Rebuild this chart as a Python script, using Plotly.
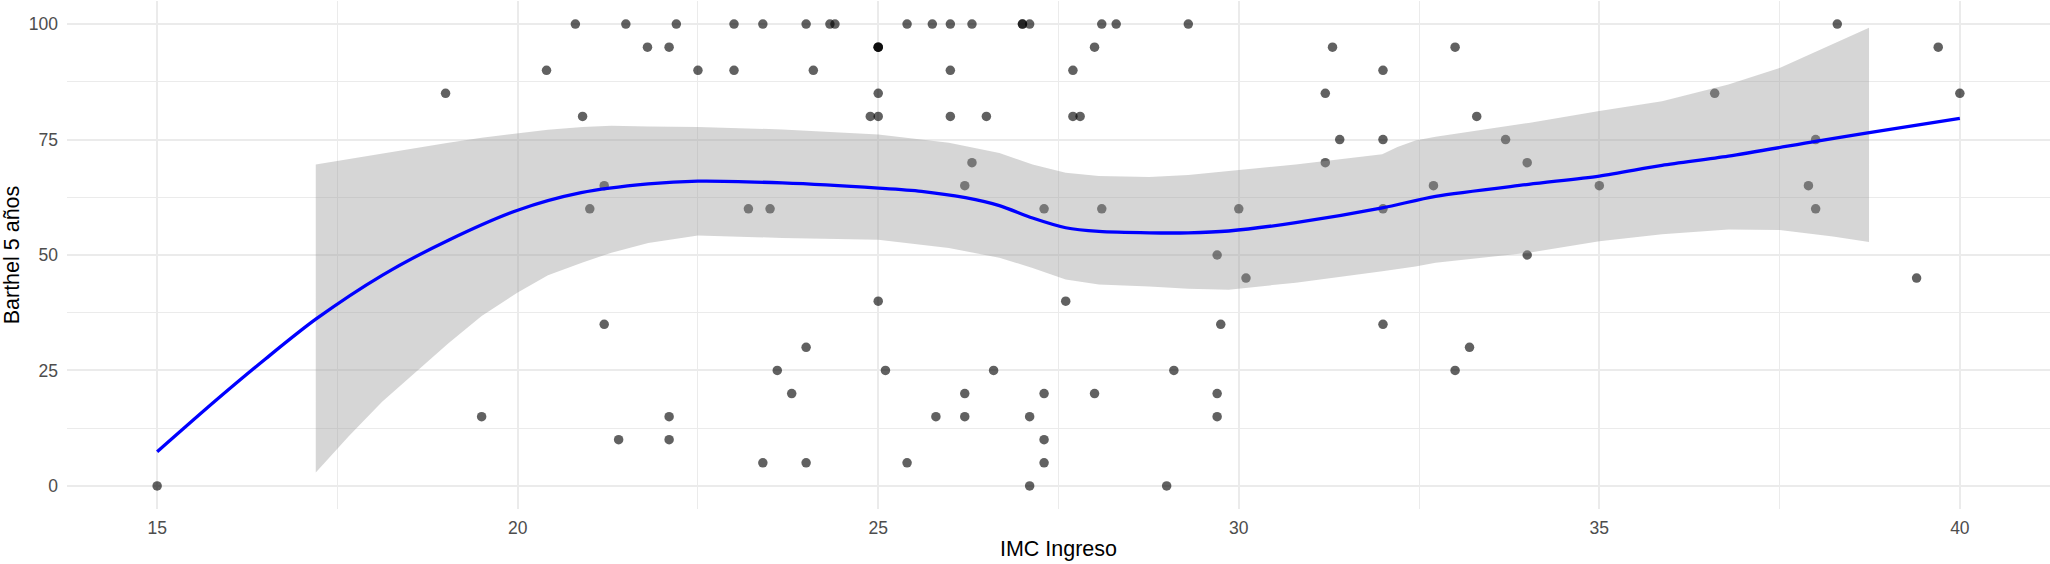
import plotly.graph_objects as go

# ---- data ----
imc = [15.0,
       20.8, 21.5, 22.2, 23.0, 23.4, 24.0, 24.33, 24.4, 25.4, 25.75, 26.0, 26.3, 27.0, 27.0, 27.1, 28.1, 28.3, 29.3, 38.3,
       21.8, 22.1, 25.0, 25.0, 25.0, 28.0, 31.3, 33.0, 39.7,
       20.4, 22.5, 23.0, 24.1, 26.0, 27.7, 32.0,
       19.0, 25.0, 31.2, 36.6, 40.0,
       20.9, 24.89, 25.0, 26.0, 26.5, 27.7, 27.8, 33.3,
       31.4, 32.0, 33.7, 38.0,
       26.3, 31.2, 34.0,
       21.2, 26.2, 32.7, 35.0, 37.9,
       21.0, 23.2, 23.5, 27.3, 28.1, 30.0, 32.0, 38.0,
       29.7, 34.0,
       30.1, 39.4,
       25.0, 27.6,
       21.2, 29.75, 32.0,
       24.0, 33.2,
       23.6, 25.1, 26.6, 29.1, 33.0,
       23.8, 26.2, 27.3, 28.0, 29.7,
       19.5, 22.1, 25.8, 26.2, 27.1, 29.7,
       21.4, 22.1, 27.3,
       23.4, 24.0, 25.4, 27.3,
       27.1, 29.0]
barthel = [0,
           100, 100, 100, 100, 100, 100, 100, 100, 100, 100, 100, 100, 100, 100, 100, 100, 100, 100, 100,
           95, 95, 95, 95, 95, 95, 95, 95, 95,
           90, 90, 90, 90, 90, 90, 90,
           85, 85, 85, 85, 85,
           80, 80, 80, 80, 80, 80, 80, 80,
           75, 75, 75, 75,
           70, 70, 70,
           65, 65, 65, 65, 65,
           60, 60, 60, 60, 60, 60, 60, 60,
           50, 50,
           45, 45,
           40, 40,
           35, 35, 35,
           30, 30,
           25, 25, 25, 25, 25,
           20, 20, 20, 20, 20,
           15, 15, 15, 15, 15, 15,
           10, 10, 10,
           5, 5, 5, 5,
           0, 0]

# loess fit line
fit_x = [15.0, 15.82, 16.51, 17.2, 18.12, 19.04, 20.0, 20.88, 21.81, 22.5, 23.67, 25.0, 25.6, 26.21,
         26.68, 27.14, 27.6, 28.06, 28.76, 29.3, 29.86, 30.79, 31.99, 32.73, 34.02, 35.0, 35.87, 36.79,
         38.0, 38.7, 40.0]
fit_y = [7.4, 18.6, 27.6, 36.1, 45.6, 53.2, 59.7, 63.5, 65.4, 66.0, 65.6, 64.5, 63.8, 62.4,
         60.7, 58.0, 55.9, 55.1, 54.8, 54.8, 55.2, 57.0, 60.2, 62.7, 65.3, 67.1, 69.4, 71.4,
         74.6, 76.4, 79.6]

# confidence band
band_x = [17.2, 17.66, 18.12, 18.58, 19.04, 19.5, 20.0, 20.42, 20.9, 21.3, 21.81, 22.5, 23.67, 25.0,
          25.98, 26.68, 27.14, 27.6, 28.06, 28.76, 29.3, 29.86, 30.79, 31.99, 32.2, 32.45, 32.73, 34.02,
          35.0, 35.87, 36.79, 37.5, 38.24, 38.74]
band_hi = [69.6, 70.8, 72.0, 73.2, 74.3, 75.4, 76.4, 77.1, 77.7, 78.0, 77.8, 77.7, 77.2, 76.1,
           74.3, 72.1, 69.6, 67.8, 67.1, 66.9, 67.3, 68.2, 69.6, 71.8, 73.4, 74.8, 75.6, 78.6,
           81.2, 83.3, 86.9, 90.5, 95.6, 99.2]
band_lo = [2.9, 10.8, 18.2, 24.5, 30.9, 36.8, 41.9, 45.6, 48.4, 50.5, 52.6, 54.2, 53.7, 53.3,
           51.5, 49.4, 47.2, 44.7, 43.6, 43.2, 42.7, 42.5, 44.0, 46.5, 46.9, 47.5, 48.3, 50.5,
           53.0, 54.5, 55.5, 55.4, 54.0, 52.8]

x_ticks = [15, 20, 25, 30, 35, 40]
y_ticks = [0, 25, 50, 75, 100]

FONT = "Liberation Sans, Arial, Helvetica, sans-serif"

fig = go.Figure()

fig.add_trace(go.Scatter(
    x=imc, y=barthel, mode="markers",
    marker=dict(size=9.5, color="rgba(0,0,0,0.62)", line=dict(width=0)),
    hoverinfo="x+y", showlegend=False))

fig.add_trace(go.Scatter(
    x=band_x + band_x[::-1], y=band_hi + band_lo[::-1],
    mode="lines", fill="toself", fillcolor="rgba(153,153,153,0.4)",
    line=dict(width=0), hoverinfo="skip", showlegend=False))

fig.add_trace(go.Scatter(
    x=fit_x, y=fit_y, mode="lines",
    line=dict(color="#0000ff", width=3.3, shape="spline", smoothing=0.8),
    hoverinfo="skip", showlegend=False))

grid = "#ebebeb"
fig.update_layout(
    width=2050, height=564,
    margin=dict(l=67, r=0, t=1, b=55),
    paper_bgcolor="white", plot_bgcolor="white",
    font=dict(family=FONT),
    xaxis=dict(
        range=[13.75, 41.25], tickvals=x_ticks, ticktext=[str(v) for v in x_ticks],
        showgrid=True, gridcolor=grid, gridwidth=2, zeroline=False, showline=False,
        ticks="", tickfont=dict(size=17.5, color="#4d4d4d"), ticklabelstandoff=6,
        minor=dict(showgrid=True, gridcolor=grid, gridwidth=1.3, dtick=2.5, tick0=15),
        title=dict(text="IMC Ingreso", font=dict(size=21.5, color="black"), standoff=4),
    ),
    yaxis=dict(
        range=[-5, 105], tickvals=y_ticks, ticktext=[str(v) for v in y_ticks],
        showgrid=True, gridcolor=grid, gridwidth=2, zeroline=False, showline=False,
        ticks="", tickfont=dict(size=17.5, color="#4d4d4d"), ticklabelstandoff=8,
        minor=dict(showgrid=True, gridcolor=grid, gridwidth=1.3, dtick=12.5, tick0=0),
        title=dict(text="Barthel 5 años", font=dict(size=21.5, color="black"), standoff=6),
    ),
)

fig.write_html("out.html")
